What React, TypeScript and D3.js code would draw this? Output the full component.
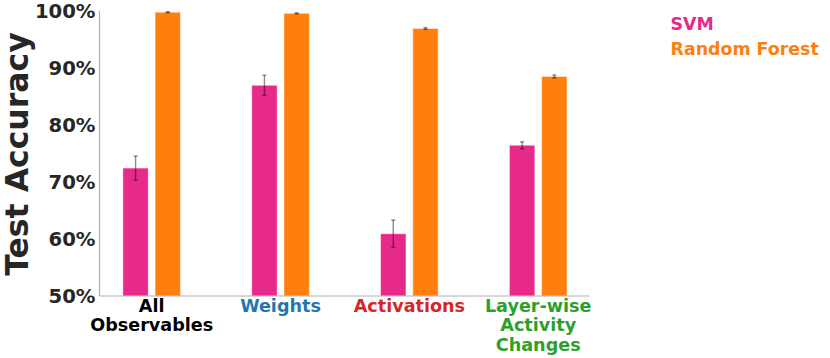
import React from "react";
import * as d3 from "d3";

const categories = ["All\nObservables", "Weights", "Activations", "Layer-wise\nActivity\nChanges"];
const categoryColors = ["#000000", "#1f77b4", "#d62728", "#2ca02c"];
const seriesNames = ["SVM", "Random Forest"];
const seriesColors = ["#e7298a", "#ff7f0e"];
const svmValues = [72.4, 86.9, 60.9, 76.4];
const svmErrors = [2.1, 1.75, 2.4, 0.6];
const rfValues = [99.7, 99.5, 96.85, 88.45];
const rfErrors = [0.08, 0.08, 0.15, 0.25];
const yTicks = [50, 60, 70, 80, 90, 100];

const W = 830;
const H = 358;
const FONT = "'DejaVu Sans', sans-serif";

export default function App() {
  const y = d3.scaleLinear().domain([50, 100]).range([296, 10.5]);
  const x = d3.scaleLinear().domain([-0.405, 3.394]).range([99.5, 589]);
  const unit = x(1) - x(0);
  const barW = 0.197 * unit;
  const offset = 0.125 * unit;
  const series = [
    { vals: svmValues, errs: svmErrors, off: -offset },
    { vals: rfValues, errs: rfErrors, off: offset },
  ];
  return (
    <svg width={W} height={H} style={{ position: "absolute", left: 0, top: 0 }}>
      <rect width={W} height={H} fill="#fff" />
      {series.map((s, si) =>
        s.vals.map((v, i) => {
          const cx = x(i) + s.off;
          return (
            <g key={`b${si}-${i}`}>
              <rect
                x={cx - barW / 2}
                y={y(v)}
                width={barW}
                height={y(50) - y(v)}
                fill={seriesColors[si]}
                stroke="rgba(255,255,255,0.45)"
                strokeWidth={1}
              />
            </g>
          );
        })
      )}
      {series.map((s, si) =>
        s.vals.map((v, i) => {
          const cx = x(i) + s.off;
          const t = y(v + s.errs[i]);
          const b = y(v - s.errs[i]);
          return (
            <g key={`e${si}-${i}`} stroke="rgba(0,0,0,0.45)" strokeWidth={1.4}>
              <line x1={cx} x2={cx} y1={t} y2={b} />
              <line x1={cx - 2} x2={cx + 2} y1={t} y2={t} />
              <line x1={cx - 2} x2={cx + 2} y1={b} y2={b} />
            </g>
          );
        })
      )}
      <line x1={99.5} x2={99.5} y1={y(100)} y2={296} stroke="#b0b0b0" strokeWidth={1.2} />
      <line x1={99.5} x2={589} y1={296} y2={296} stroke="#b0b0b0" strokeWidth={1.2} />
      {yTicks.map((t) => (
        <text
          key={t}
          x={95.5}
          y={y(t)}
          dy="0.36em"
          textAnchor="end"
          fontFamily={FONT}
          fontWeight="bold"
          fontSize={19.6}
          fill="#262626"
        >
          {t}%
        </text>
      ))}
      {categories.map((c, i) =>
        c.split("\n").map((line, li) => (
          <text
            key={`c${i}-${li}`}
            x={x(i)}
            y={311.5 + li * 19.7}
            textAnchor="middle"
            fontFamily={FONT}
            fontWeight="bold"
            fontSize={17.6}
            fill={categoryColors[i]}
          >
            {line}
          </text>
        ))
      )}
      <text
        transform={`translate(28,154) rotate(-90)`}
        textAnchor="middle"
        fontFamily={FONT}
        fontWeight="bold"
        fontSize={31.5}
        fill="#262626"
      >
        Test Accuracy
      </text>
      {seriesNames.map((n, i) => (
        <text
          key={n}
          x={670.5}
          y={29.5 + i * 25.5}
          fontFamily={FONT}
          fontWeight="bold"
          fontSize={17.4}
          fill={seriesColors[i]}
        >
          {n}
        </text>
      ))}
    </svg>
  );
}
